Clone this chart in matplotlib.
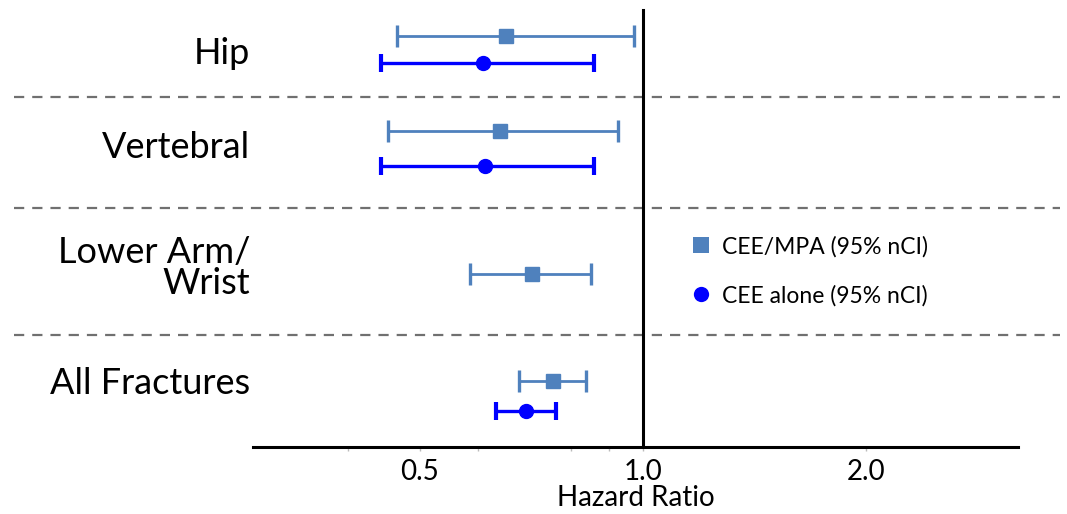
import matplotlib
matplotlib.use("Agg")
import matplotlib.pyplot as plt
import numpy as np
from matplotlib.lines import Line2D
from matplotlib.ticker import FixedLocator, NullFormatter

plt.rcParams['font.family'] = ['Lato', 'DejaVu Sans']

# ---- data ----
categories = ["Hip", "Vertebral", "Lower Arm/\nWrist", "All Fractures"]
mpa_hr = [0.655, 0.641, 0.708, 0.756]
mpa_lo = [0.466, 0.453, 0.584, 0.682]
mpa_hi = [0.972, 0.925, 0.853, 0.838]
cee_hr = [0.608, 0.612, np.nan, 0.697]
cee_lo = [0.443, 0.443, np.nan, 0.635]
cee_hi = [0.859, 0.859, np.nan, 0.763]
xticks = [0.5, 1.0, 2.0]
xtick_labels = ["0.5", "1.0", "2.0"]
legend_labels = ["CEE/MPA (95% nCI)", "CEE alone (95% nCI)"]

# ---- layout (pixel rows from top) ----
y_mpa = [36, 131, 274, 381]
y_cee = [63, 166, np.nan, 411]
y_label = [53, 148, 268, 384]
separators = [97, 208, 335]

W, H = 1067, 514
fig = plt.figure(figsize=(W / 100, H / 100), dpi=100)
ax_left, ax_right, ax_bottom = 253, 1018, 447
ax = fig.add_axes([ax_left / W, (H - ax_bottom) / H, (ax_right - ax_left) / W, ax_bottom / H])
ax.set_xscale('log')
ax.set_xlim(0.298, 3.21)
ax.set_ylim(ax_bottom, 0)

c_mpa = '#4F81BD'
c_cee = '#0000FF'

mpa_hr_a = np.array(mpa_hr); cee_hr_a = np.array(cee_hr)
ax.errorbar(mpa_hr_a, y_mpa,
            xerr=[mpa_hr_a - np.array(mpa_lo), np.array(mpa_hi) - mpa_hr_a],
            fmt='s', color=c_mpa, ms=10, elinewidth=2.0, capsize=8, capthick=2.4,
            zorder=3)
ax.errorbar(cee_hr_a, y_cee,
            xerr=[cee_hr_a - np.array(cee_lo), np.array(cee_hi) - cee_hr_a],
            fmt='o', color=c_cee, ms=10, elinewidth=2.4, capsize=6.5, capthick=3.0,
            zorder=3)

ax.axvline(1.0, ymin=0, ymax=(ax_bottom - 10) / ax_bottom, color='black', lw=2.2, zorder=2)

x0 = (14 - ax_left) / (ax_right - ax_left)
x1 = (1060 - ax_left) / (ax_right - ax_left)
for s in separators:
    ax.axhline(s, xmin=x0, xmax=x1, color='#707070', lw=1.6,
               linestyle=(0, (4.6, 3.6)), clip_on=False, zorder=1)

for lab, yl in zip(categories, y_label):
    fig.text(250 / W, 1 - yl / H, lab, ha='right', va='center', fontsize=26,
             linespacing=0.93, color='black')

for sp in ['left', 'top', 'right']:
    ax.spines[sp].set_visible(False)
ax.spines['bottom'].set_linewidth(2.2)
ax.spines['bottom'].set_color('black')
ax.set_yticks([])
ax.xaxis.set_major_locator(FixedLocator(xticks))
ax.set_xticklabels(xtick_labels)
ax.xaxis.set_minor_locator(FixedLocator([0.4, 0.6, 0.8, 0.9]))
ax.xaxis.set_minor_formatter(NullFormatter())
ax.tick_params(axis='x', which='major', length=3, width=1, color='#bbbbbb',
               labelsize=20, pad=6)
ax.tick_params(axis='x', which='minor', length=3, width=1, color='#bbbbbb')
ax.set_xlabel("Hazard Ratio", fontsize=20, labelpad=0)

handles = [Line2D([], [], marker='s', color=c_mpa, linestyle='none', ms=11, markeredgewidth=0),
           Line2D([], [], marker='o', color=c_cee, linestyle='none', ms=11, markeredgewidth=0)]
fig.legend(handles, legend_labels, loc='center left',
           bbox_to_anchor=(690 / W, 1 - 271 / H), frameon=False,
           fontsize=16.5, handlelength=1.0, handletextpad=0.4, labelspacing=1.2,
           borderpad=0, borderaxespad=0)

fig.savefig("out.png", dpi=100)
